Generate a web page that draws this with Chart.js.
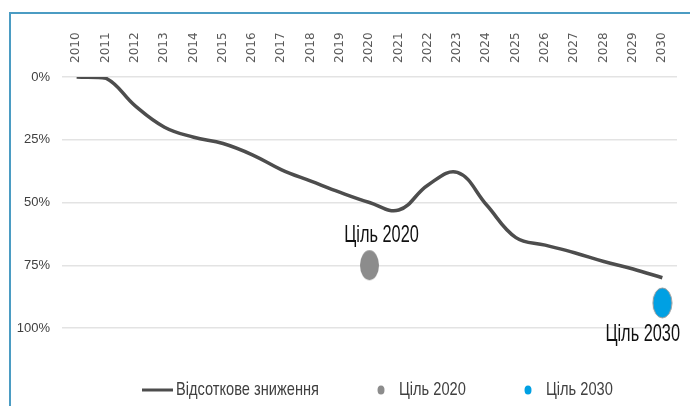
<!DOCTYPE html>
<html>
<head>
<meta charset="utf-8">
<script src="https://cdn.jsdelivr.net/npm/chart.js@4"></script>
<style>
  html, body { margin: 0; padding: 0; background: #fff; }
  #wrap { position: relative; width: 690px; height: 406px; overflow: hidden; }
  #frame { position: absolute; left: 9px; top: 12px; width: 700px; height: 420px;
           border-top: 2px solid #4b9cc3; border-left: 2px solid #4b9cc3; }
  #chart { position: absolute; left: 0; top: 0; }
</style>
</head>
<body>
<div id="wrap">
  <div id="frame"></div>
  <canvas id="chart" width="690" height="406"></canvas>
</div>
<script>
// Data
const years = ["2010","2011","2012","2013","2014","2015","2016","2017","2018","2019","2020",
               "2021","2022","2023","2024","2025","2026","2027","2028","2029","2030"];
const reduction = [0, 0.5, 11.5, 20, 24, 26.5, 31, 37, 41.5, 46, 50,
                   53, 43, 38, 51, 64, 67, 70, 73.5, 76.5, 80];
const target2020 = [null,null,null,null,null,null,null,null,null,null,75,
                    null,null,null,null,null,null,null,null,null,null];
const target2030 = [null,null,null,null,null,null,null,null,null,null,null,
                    null,null,null,null,null,null,null,null,null,90];
const yTicks = [0, 25, 50, 75, 100];
const seriesNames = ["Відсоткове зниження", "Ціль 2020", "Ціль 2030"];

const TEXT_FONT = "'Liberation Sans', Arial, sans-serif";
const LINE_COL = "#4d4d4d";
const GRAY_COL = "#8c8c8c";
const BLUE_COL = "#00a0e3";

// the targets are drawn as tall ellipses
function ellipse(w, h, fill, stroke) {
  const c = document.createElement("canvas");
  c.width = w + 2; c.height = h + 2;
  const g = c.getContext("2d");
  g.beginPath();
  g.ellipse(c.width / 2, c.height / 2, w / 2, h / 2, 0, 0, Math.PI * 2);
  g.fillStyle = fill; g.fill();
  if (stroke) { g.lineWidth = 1; g.strokeStyle = stroke; g.stroke(); }
  return c;
}

// source uses a condensed face, so squeeze Liberation Sans horizontally
function narrowText(ctx, text, x, y, sx) {
  ctx.save();
  ctx.translate(x, y);
  ctx.scale(sx, 1);
  ctx.fillText(text, 0, 0);
  ctx.restore();
}

const extras = {
  id: "extras",
  afterDatasetsDraw(chart) {
    const ctx = chart.ctx;
    ctx.save();
    // point labels
    ctx.fillStyle = "#111";
    ctx.font = "23px " + TEXT_FONT;
    ctx.textBaseline = "alphabetic";
    const p1 = chart.getDatasetMeta(1).data[10];
    ctx.textAlign = "center";
    narrowText(ctx, seriesNames[1], p1.x + 12, p1.y - 23, 0.71);
    const p2 = chart.getDatasetMeta(2).data[20];
    ctx.textAlign = "right";
    narrowText(ctx, seriesNames[2], 680, p2.y + 38, 0.71);

    // legend
    const ly = 390;
    ctx.font = "19px " + TEXT_FONT;
    ctx.textAlign = "left";
    ctx.textBaseline = "middle";
    ctx.fillStyle = "#404040";
    ctx.strokeStyle = LINE_COL; ctx.lineWidth = 3;
    ctx.beginPath(); ctx.moveTo(142, ly); ctx.lineTo(173, ly); ctx.stroke();
    narrowText(ctx, seriesNames[0], 176, ly, 0.77);
    ctx.fillStyle = GRAY_COL;
    ctx.beginPath(); ctx.ellipse(381, ly, 3.5, 4.5, 0, 0, Math.PI * 2); ctx.fill();
    ctx.fillStyle = "#404040";
    narrowText(ctx, seriesNames[1], 399, ly, 0.77);
    ctx.fillStyle = BLUE_COL;
    ctx.beginPath(); ctx.ellipse(528, ly, 3.5, 4.5, 0, 0, Math.PI * 2); ctx.fill();
    ctx.fillStyle = "#404040";
    narrowText(ctx, seriesNames[2], 546, ly, 0.77);
    ctx.restore();
  }
};

new Chart(document.getElementById("chart"), {
  type: "line",
  data: {
    labels: years,
    datasets: [
      { label: seriesNames[0], data: reduction, borderColor: LINE_COL, borderWidth: 3.5,
        tension: 0.4, pointRadius: 0, fill: false },
      { label: seriesNames[1], data: target2020, showLine: false,
        pointStyle: ellipse(19, 30, GRAY_COL, null) },
      { label: seriesNames[2], data: target2030, showLine: false,
        pointStyle: ellipse(19, 30, BLUE_COL, "#9a9a9a") }
    ]
  },
  options: {
    responsive: false,
    animation: false,
    layout: { padding: { left: 0, right: 13, top: 0, bottom: 78 } },
    plugins: { legend: { display: false }, tooltip: { enabled: false } },
    scales: {
      x: {
        position: "top",
        offset: true,
        grid: { display: false, drawTicks: false },
        border: { display: false },
        ticks: { minRotation: 90, maxRotation: 90, padding: 14, labelOffset: 14,
                 color: "#595959",
                 font: { family: "'DejaVu Sans', Verdana, sans-serif", size: 12 } },
        afterFit(s) { s.height = 77; }
      },
      y: {
        reverse: true,
        min: 0, max: 100,
        afterBuildTicks(s) { s.ticks = yTicks.map(v => ({ value: v })); },
        grid: { color: "#e3e3e3", lineWidth: 1.5, drawTicks: false },
        border: { display: false },
        ticks: { padding: 12, color: "#404040", callback: v => v + "%",
                 font: { family: TEXT_FONT, size: 13 } },
        afterFit(s) { s.width = 62; }
      }
    }
  },
  plugins: [extras]
});
</script>
</body>
</html>
